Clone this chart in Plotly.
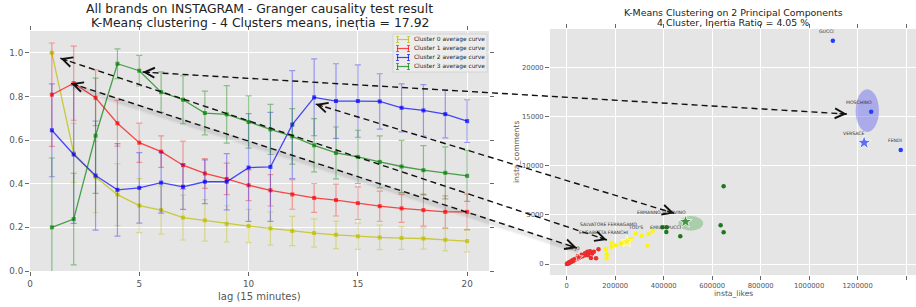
import plotly.graph_objects as go

W, H = 916, 307
FONT = "DejaVu Sans"

# ---------------- left panel data ----------------
lags = list(range(1, 21))
cluster_names = ["Cluster 0 average curve", "Cluster 1 average curve",
                 "Cluster 2 average curve", "Cluster 3 average curve"]
c0_mean = [1.0, 0.541, 0.431, 0.35, 0.30, 0.279, 0.245, 0.232, 0.216, 0.206,
           0.195, 0.183, 0.174, 0.166, 0.159, 0.154, 0.151, 0.149, 0.143, 0.137]
c0_std = [0.0, 0.136, 0.164, 0.142, 0.124, 0.11, 0.103, 0.095, 0.083, 0.076,
          0.076, 0.067, 0.065, 0.063, 0.06, 0.056, 0.052, 0.049, 0.051, 0.05]
c1_mean = [0.808, 0.861, 0.794, 0.677, 0.588, 0.547, 0.485, 0.447, 0.422, 0.393,
           0.37, 0.351, 0.335, 0.325, 0.311, 0.297, 0.287, 0.279, 0.271, 0.271]
c1_std = [0.237, 0.17, 0.128, 0.105, 0.09, 0.072, 0.11, 0.068, 0.072, 0.07,
          0.072, 0.068, 0.066, 0.073, 0.075, 0.069, 0.064, 0.073, 0.073, 0.081]
c2_mean = [0.645, 0.534, 0.4375, 0.372, 0.381, 0.405, 0.386, 0.409, 0.409, 0.474,
           0.477, 0.671, 0.796, 0.779, 0.779, 0.777, 0.748, 0.736, 0.719, 0.687]
c2_std = [0.213, 0.316, 0.25, 0.212, 0.162, 0.14, 0.104, 0.10, 0.129, 0.247,
          0.25, 0.247, 0.176, 0.171, 0.166, 0.127, 0.11, 0.118, 0.109, 0.098]
c3_mean = [0.2, 0.238, 0.62, 0.95, 0.918, 0.82, 0.785, 0.724, 0.718, 0.683,
           0.649, 0.617, 0.576, 0.541, 0.523, 0.5, 0.479, 0.462, 0.45, 0.436]
c3_std = [0.318, 0.21, 0.264, 0.068, 0.07, 0.093, 0.11, 0.1, 0.132, 0.12,
          0.115, 0.127, 0.122, 0.119, 0.122, 0.119, 0.12, 0.113, 0.119, 0.117]
left_xticks = [0, 5, 10, 15, 20]
left_yticks = [0.0, 0.2, 0.4, 0.6, 0.8, 1.0]

# ---------------- right panel data ----------------
red_likes = [500, 3000, 5000, 7000, 9000, 11000, 13000, 15000, 17000, 19000,
             21000, 23000, 25000, 27000, 29000, 31000, 33000, 35000, 37000, 39000,
             41000, 43000, 45000, 48000, 50000, 53000, 56000, 59000, 62000, 65000,
             68000, 72000, 76000, 80000, 84000, 88000, 92000, 96000, 100000, 105000,
             112000, 121000, 131000, 85000, 60000, 45000, 75600]
red_comments = [10, 40, 80, 60, 150, 120, 200, 180, 260, 230,
                300, 350, 280, 400, 380, 450, 420, 520, 480, 560,
                600, 540, 650, 700, 620, 760, 720, 800, 850, 780,
                900, 950, 880, 1000, 1050, 900, 1150, 1300, 600, 1080,
                1250, 580, 1500, 1256, 950, 800, 1087]
yellow_likes = [160800, 185600, 185600, 203300, 224000, 235000, 244600, 254500,
                268000, 285800, 309000, 338000, 354500, 332500, 165000, 165000]
yellow_comments = [1527, 2170, 1764, 1900, 2100, 2240, 2270, 2445,
                   2510, 3120, 2850, 3050, 3390, 1865, 990, 580]
green_likes = [394300, 412000, 410800, 468500, 635000, 647400, 647400]
green_comments = [3736, 3736, 3258, 2820, 3940, 3227, 7910]
blue_likes = [1098000, 1256000, 1378000]
blue_comments = [22740, 15520, 11615]
star_likes = [49500, 248000, 490000, 1227000]
star_comments = [680, 2270, 4310, 12360]
ellipse_likes = [236000, 512000, 1240000]
ellipse_comments = [2100, 4143, 15620]
ellipse_half_likes = [27500, 51000, 48000]
ellipse_half_comments = [340, 750, 2170]
brand_labels = ["LIU JO", "ELISABETTA FRANCHI", "SALVATORE FERRAGAMO", "TOD'S",
                "EMILIO PUCCI", "ERMANNO SCERVINO", "GUCCI", "MOSCHINO",
                "VERSACE", "FENDI"]
brand_likes = [49500, 248000, 285800, 309000, 468500, 490000, 1098000, 1256000,
               1227000, 1378000]
brand_comments = [680, 2270, 3120, 2850, 2820, 4310, 22740, 15520, 12360, 11615]
right_xticks = [0, 200000, 400000, 600000, 800000, 1000000, 1200000, 1400000]
right_yticks = [0, 5000, 10000, 15000, 20000]

# arrows linking a cluster curve to a brand of the scatter
arrow_lag = [5.15, 1.39, 1.88, 13.07]
arrow_value = [0.912, 0.975, 0.860, 0.765]
arrow_likes = [1156000, 166000, 42400, 443800]
arrow_comments = [15280, 2445, 1630, 5165]
arrow_shadow = [False, False, True, False]

# ---------------- layout geometry ----------------
L_XDOM = [30 / W, 489 / W]
L_YDOM = [1 - 271 / H, 1 - 31 / H]
R_XDOM = [550 / W, 1.0]
R_YDOM = [1 - 275 / H, 1 - 29 / H]
L_XR = [0, 21]
L_YR = [0, 1.1]
R_XR = [-69000, 1441000]
R_YR = [-1120, 23940]


def to_paper(v, rng, dom):
    return dom[0] + (v - rng[0]) / (rng[1] - rng[0]) * (dom[1] - dom[0])


def px(xp_, yp_):
    return xp_ * W, (1 - yp_) * H


line_cols = ["rgba(191,191,0,0.75)", "rgba(255,0,0,0.7)",
             "rgba(0,0,255,0.7)", "rgba(0,128,0,0.7)"]
err_cols = ["rgba(191,191,0,0.4)", "rgba(255,0,0,0.35)",
            "rgba(0,0,255,0.35)", "rgba(0,128,0,0.4)"]

fig = go.Figure()
means = [c0_mean, c1_mean, c2_mean, c3_mean]
stds = [c0_std, c1_std, c2_std, c3_std]
for i in range(4):
    fig.add_trace(go.Scatter(
        x=lags, y=means[i], mode="lines+markers", name=cluster_names[i],
        line=dict(color=line_cols[i], width=1.3),
        marker=dict(symbol="square", size=4, color=line_cols[i]),
        error_y=dict(type="data", array=stds[i], color=err_cols[i],
                     thickness=1.2, width=3),
        xaxis="x", yaxis="y", showlegend=False))

# right scatter
for xs, ys, col in [(red_likes, red_comments, "rgb(235,45,45)"),
                    (yellow_likes, yellow_comments, "rgb(250,245,20)"),
                    (green_likes, green_comments, "rgb(30,120,30)"),
                    (blue_likes, blue_comments, "rgb(35,60,255)")]:
    fig.add_trace(go.Scatter(x=xs, y=ys, mode="markers",
                             marker=dict(size=4.5, color=col),
                             xaxis="x2", yaxis="y2", showlegend=False))
star_cols = ["rgb(235,45,45)", "rgb(250,245,20)", "rgb(30,120,30)", "rgb(35,60,255)"]
star_sizes = [7, 9, 10, 11]
fig.add_trace(go.Scatter(x=star_likes, y=star_comments, mode="markers",
                         marker=dict(symbol="star", size=star_sizes, color=star_cols),
                         xaxis="x2", yaxis="y2", showlegend=False))

shapes = []
ell_cols = ["rgba(255,255,60,0.35)", "rgba(60,160,60,0.35)", "rgba(100,100,240,0.45)"]
for i in range(3):
    shapes.append(dict(type="circle", xref="x2", yref="y2", layer="between",
                       x0=ellipse_likes[i] - ellipse_half_likes[i],
                       x1=ellipse_likes[i] + ellipse_half_likes[i],
                       y0=ellipse_comments[i] - ellipse_half_comments[i],
                       y1=ellipse_comments[i] + ellipse_half_comments[i],
                       fillcolor=ell_cols[i], line=dict(width=0)))

annotations = []
# brand labels
for name, lx, ly in zip(brand_labels, brand_likes, brand_comments):
    annotations.append(dict(x=lx, y=ly, xref="x2", yref="y2", text=name,
                            showarrow=False, xanchor="right", yanchor="middle",
                            xshift=3, yshift=9,
                            font=dict(family=FONT, size=4.6, color="#333")))

# dashed double arrows
for i in range(4):
    x1p = to_paper(arrow_lag[i], L_XR, L_XDOM)
    y1p = to_paper(arrow_value[i], L_YR, L_YDOM)
    x2p = to_paper(arrow_likes[i], R_XR, R_XDOM)
    y2p = to_paper(arrow_comments[i], R_YR, R_YDOM)
    if arrow_shadow[i]:
        for wdt, alpha in [(7, 0.035), (4, 0.05)]:
            shapes.append(dict(type="line", xref="paper", yref="paper",
                               x0=x1p + 2 / W, y0=y1p - 3 / H,
                               x1=x2p + 2 / W, y1=y2p - 3 / H,
                               line=dict(color=f"rgba(0,0,0,{alpha})", width=wdt)))
    shapes.append(dict(type="line", xref="paper", yref="paper",
                       x0=x1p, y0=y1p, x1=x2p, y1=y2p,
                       line=dict(color="#111", width=1.4, dash="6px,4px")))
    p1 = px(x1p, y1p)
    p2 = px(x2p, y2p)
    dx, dy = p2[0] - p1[0], p2[1] - p1[1]
    n = (dx * dx + dy * dy) ** 0.5
    ux, uy = dx / n, dy / n
    L = 9
    annotations.append(dict(x=x1p, y=y1p, xref="paper", yref="paper", text="",
                            showarrow=True, arrowhead=5, arrowsize=1.5,
                            arrowwidth=1.3, arrowcolor="#111",
                            ax=ux * L, ay=uy * L, standoff=0))
    annotations.append(dict(x=x2p, y=y2p, xref="paper", yref="paper", text="",
                            showarrow=True, arrowhead=5, arrowsize=1.5,
                            arrowwidth=1.3, arrowcolor="#111",
                            ax=-ux * L, ay=-uy * L, standoff=0))

# manual legend (compact, like the original)
lg_x0, lg_x1, lg_y0, lg_y1 = 393, 487, 34, 72
shapes.append(dict(type="rect", xref="paper", yref="paper",
                   x0=lg_x0 / W, x1=lg_x1 / W, y0=1 - lg_y1 / H, y1=1 - lg_y0 / H,
                   fillcolor="rgba(236,236,236,0.95)", line=dict(color="#d0d0d0", width=0.8)))
for i in range(4):
    yy = 39.5 + 9 * i
    shapes.append(dict(type="line", xref="paper", yref="paper",
                       x0=397 / W, x1=409 / W, y0=1 - yy / H, y1=1 - yy / H,
                       line=dict(color=line_cols[i], width=1.2)))
    for xx in (397.5, 408.5):
        shapes.append(dict(type="line", xref="paper", yref="paper",
                           x0=xx / W, x1=xx / W, y0=1 - (yy - 3) / H, y1=1 - (yy + 3) / H,
                           line=dict(color=line_cols[i], width=1.1)))
        for cy in (yy - 3, yy + 3):
            shapes.append(dict(type="line", xref="paper", yref="paper",
                               x0=(xx - 1.5) / W, x1=(xx + 1.5) / W,
                               y0=1 - cy / H, y1=1 - cy / H,
                               line=dict(color=line_cols[i], width=0.9)))
    annotations.append(dict(x=412 / W, y=1 - yy / H, xref="paper", yref="paper",
                            text=cluster_names[i], showarrow=False,
                            xanchor="left", yanchor="middle",
                            font=dict(family=FONT, size=5.9, color="#222")))

# titles and axis labels
annotations += [
    dict(x=259.5 / W, y=1 - 8.5 / H, xref="paper", yref="paper", showarrow=False,
         text="All brands on INSTAGRAM - Granger causality test result",
         xanchor="center", yanchor="middle", font=dict(family=FONT, size=12.4, color="#222")),
    dict(x=259.5 / W, y=1 - 22 / H, xref="paper", yref="paper", showarrow=False,
         text="K-Means clustering - 4 Clusters means, inertia = 17.92",
         xanchor="center", yanchor="middle", font=dict(family=FONT, size=12.4, color="#222")),
    dict(x=733 / W, y=1 - 12.5 / H, xref="paper", yref="paper", showarrow=False,
         text="K-Means Clustering on 2 Principal Components",
         xanchor="center", yanchor="middle", font=dict(family=FONT, size=9.4, color="#222")),
    dict(x=733 / W, y=1 - 22.5 / H, xref="paper", yref="paper", showarrow=False,
         text="4 Cluster, Inertia Ratio = 4.05 %",
         xanchor="center", yanchor="middle", font=dict(family=FONT, size=9.4, color="#222")),
    dict(x=259.5 / W, y=1 - 296 / H, xref="paper", yref="paper", showarrow=False,
         text="lag (15 minutes)", xanchor="center", yanchor="middle",
         font=dict(family=FONT, size=10, color="#555")),
    dict(x=733 / W, y=1 - 293 / H, xref="paper", yref="paper", showarrow=False,
         text="insta_likes", xanchor="center", yanchor="middle",
         font=dict(family=FONT, size=7.6, color="#555")),
    dict(x=516 / W, y=1 - 152 / H, xref="paper", yref="paper", showarrow=False,
         text="insta_comments", textangle=-90, xanchor="center", yanchor="middle",
         font=dict(family=FONT, size=7.6, color="#555")),
]

axis_common = dict(showgrid=True, gridcolor="white", gridwidth=1, zeroline=False,
                   showline=False, ticks="outside", ticklen=4, tickcolor="#666",
                   tickwidth=1, mirror="ticks", automargin=False)

fig.update_layout(
    width=W, height=H, margin=dict(l=0, r=0, t=0, b=0),
    paper_bgcolor="white", plot_bgcolor="#E5E5E5",
    font=dict(family=FONT, color="#555"),
    showlegend=False,
    xaxis=dict(domain=L_XDOM, range=L_XR, tickvals=left_xticks, anchor="y",
               tickfont=dict(size=8.8, color="#555"), **axis_common),
    yaxis=dict(domain=L_YDOM, range=L_YR, tickvals=left_yticks, anchor="x",
               tickformat=".1f", tickfont=dict(size=8.8, color="#555"), **axis_common),
    xaxis2=dict(domain=R_XDOM, range=R_XR, tickvals=right_xticks, anchor="y2",
                tickformat="d", tickfont=dict(size=6.8, color="#555"), **axis_common),
    yaxis2=dict(domain=R_YDOM, range=R_YR, tickvals=right_yticks, anchor="x2",
                tickformat="d", tickfont=dict(size=6.8, color="#555"), **axis_common),
    shapes=shapes, annotations=annotations,
)

fig.write_html("out.html",
               config={"displayModeBar": False},
               post_script="document.body.style.margin='0';"
                           "document.body.style.overflow='hidden';")
